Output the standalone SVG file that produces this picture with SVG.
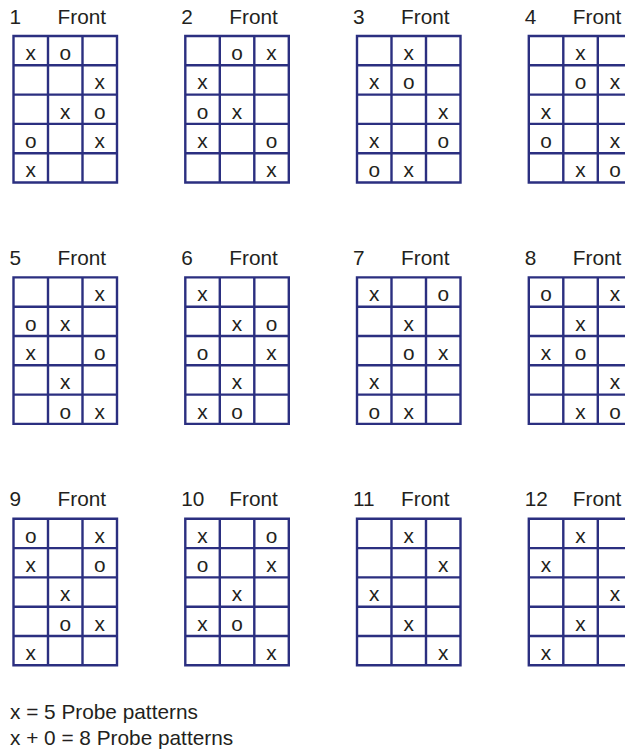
<svg xmlns="http://www.w3.org/2000/svg" xmlns:xlink="http://www.w3.org/1999/xlink" width="625" height="754" viewBox="0 0 625 754">
<style>
.g{fill:none;stroke:#2b2f80;stroke-width:2.4}
text{font-family:"Liberation Sans",Arial,sans-serif;font-size:20.8px;fill:#231f20}
.c{text-anchor:middle}
</style>
<defs>
<path id="frame" class="g" d="M0,0H103.5V146.5H0Z M34.5,0V146.5 M69,0V146.5 M0,29.3H103.5 M0,58.6H103.5 M0,87.9H103.5 M0,117.2H103.5"/>
</defs>
<rect width="625" height="754" fill="#fff"/>
<g id="grid1" transform="translate(13.5,36)"><use xlink:href="#frame"/><text x="-4" y="-12.5">1</text><text x="44" y="-12.5">Front</text>
<text class="c" x="17.25" y="24">x</text><text class="c" x="51.75" y="24">o</text>
<text class="c" x="86.25" y="53.3">x</text>
<text class="c" x="51.75" y="82.6">x</text><text class="c" x="86.25" y="82.6">o</text>
<text class="c" x="17.25" y="111.9">o</text><text class="c" x="86.25" y="111.9">x</text>
<text class="c" x="17.25" y="141.2">x</text></g>
<g id="grid2" transform="translate(185.3,36)"><use xlink:href="#frame"/><text x="-4" y="-12.5">2</text><text x="44" y="-12.5">Front</text>
<text class="c" x="51.75" y="24">o</text><text class="c" x="86.25" y="24">x</text>
<text class="c" x="17.25" y="53.3">x</text>
<text class="c" x="17.25" y="82.6">o</text><text class="c" x="51.75" y="82.6">x</text>
<text class="c" x="17.25" y="111.9">x</text><text class="c" x="86.25" y="111.9">o</text>
<text class="c" x="86.25" y="141.2">x</text></g>
<g id="grid3" transform="translate(357,36)"><use xlink:href="#frame"/><text x="-4" y="-12.5">3</text><text x="44" y="-12.5">Front</text>
<text class="c" x="51.75" y="24">x</text>
<text class="c" x="17.25" y="53.3">x</text><text class="c" x="51.75" y="53.3">o</text>
<text class="c" x="86.25" y="82.6">x</text>
<text class="c" x="17.25" y="111.9">x</text><text class="c" x="86.25" y="111.9">o</text>
<text class="c" x="17.25" y="141.2">o</text><text class="c" x="51.75" y="141.2">x</text></g>
<g id="grid4" transform="translate(528.8,36)"><use xlink:href="#frame"/><text x="-4" y="-12.5">4</text><text x="44" y="-12.5">Front</text>
<text class="c" x="51.75" y="24">x</text>
<text class="c" x="51.75" y="53.3">o</text><text class="c" x="86.25" y="53.3">x</text>
<text class="c" x="17.25" y="82.6">x</text>
<text class="c" x="17.25" y="111.9">o</text><text class="c" x="86.25" y="111.9">x</text>
<text class="c" x="51.75" y="141.2">x</text><text class="c" x="86.25" y="141.2">o</text></g>
<g id="grid5" transform="translate(13.5,277.4)"><use xlink:href="#frame"/><text x="-4" y="-12.5">5</text><text x="44" y="-12.5">Front</text>
<text class="c" x="86.25" y="24">x</text>
<text class="c" x="17.25" y="53.3">o</text><text class="c" x="51.75" y="53.3">x</text>
<text class="c" x="17.25" y="82.6">x</text><text class="c" x="86.25" y="82.6">o</text>
<text class="c" x="51.75" y="111.9">x</text>
<text class="c" x="51.75" y="141.2">o</text><text class="c" x="86.25" y="141.2">x</text></g>
<g id="grid6" transform="translate(185.3,277.4)"><use xlink:href="#frame"/><text x="-4" y="-12.5">6</text><text x="44" y="-12.5">Front</text>
<text class="c" x="17.25" y="24">x</text>
<text class="c" x="51.75" y="53.3">x</text><text class="c" x="86.25" y="53.3">o</text>
<text class="c" x="17.25" y="82.6">o</text><text class="c" x="86.25" y="82.6">x</text>
<text class="c" x="51.75" y="111.9">x</text>
<text class="c" x="17.25" y="141.2">x</text><text class="c" x="51.75" y="141.2">o</text></g>
<g id="grid7" transform="translate(357,277.4)"><use xlink:href="#frame"/><text x="-4" y="-12.5">7</text><text x="44" y="-12.5">Front</text>
<text class="c" x="17.25" y="24">x</text><text class="c" x="86.25" y="24">o</text>
<text class="c" x="51.75" y="53.3">x</text>
<text class="c" x="51.75" y="82.6">o</text><text class="c" x="86.25" y="82.6">x</text>
<text class="c" x="17.25" y="111.9">x</text>
<text class="c" x="17.25" y="141.2">o</text><text class="c" x="51.75" y="141.2">x</text></g>
<g id="grid8" transform="translate(528.8,277.4)"><use xlink:href="#frame"/><text x="-4" y="-12.5">8</text><text x="44" y="-12.5">Front</text>
<text class="c" x="17.25" y="24">o</text><text class="c" x="86.25" y="24">x</text>
<text class="c" x="51.75" y="53.3">x</text>
<text class="c" x="17.25" y="82.6">x</text><text class="c" x="51.75" y="82.6">o</text>
<text class="c" x="86.25" y="111.9">x</text>
<text class="c" x="51.75" y="141.2">x</text><text class="c" x="86.25" y="141.2">o</text></g>
<g id="grid9" transform="translate(13.5,518.8)"><use xlink:href="#frame"/><text x="-4" y="-12.5">9</text><text x="44" y="-12.5">Front</text>
<text class="c" x="17.25" y="24">o</text><text class="c" x="86.25" y="24">x</text>
<text class="c" x="17.25" y="53.3">x</text><text class="c" x="86.25" y="53.3">o</text>
<text class="c" x="51.75" y="82.6">x</text>
<text class="c" x="51.75" y="111.9">o</text><text class="c" x="86.25" y="111.9">x</text>
<text class="c" x="17.25" y="141.2">x</text></g>
<g id="grid10" transform="translate(185.3,518.8)"><use xlink:href="#frame"/><text x="-4" y="-12.5">10</text><text x="44" y="-12.5">Front</text>
<text class="c" x="17.25" y="24">x</text><text class="c" x="86.25" y="24">o</text>
<text class="c" x="17.25" y="53.3">o</text><text class="c" x="86.25" y="53.3">x</text>
<text class="c" x="51.75" y="82.6">x</text>
<text class="c" x="17.25" y="111.9">x</text><text class="c" x="51.75" y="111.9">o</text>
<text class="c" x="86.25" y="141.2">x</text></g>
<g id="grid11" transform="translate(357,518.8)"><use xlink:href="#frame"/><text x="-4" y="-12.5">11</text><text x="44" y="-12.5">Front</text>
<text class="c" x="51.75" y="24">x</text>
<text class="c" x="86.25" y="53.3">x</text>
<text class="c" x="17.25" y="82.6">x</text>
<text class="c" x="51.75" y="111.9">x</text>
<text class="c" x="86.25" y="141.2">x</text></g>
<g id="grid12" transform="translate(528.8,518.8)"><use xlink:href="#frame"/><text x="-4" y="-12.5">12</text><text x="44" y="-12.5">Front</text>
<text class="c" x="51.75" y="24">x</text>
<text class="c" x="17.25" y="53.3">x</text>
<text class="c" x="86.25" y="82.6">x</text>
<text class="c" x="51.75" y="111.9">x</text>
<text class="c" x="17.25" y="141.2">x</text></g>
<g id="connectors"/>
<g id="legend"><text x="10" y="719">x = 5 Probe patterns</text><text x="10" y="745">x + 0 = 8 Probe patterns</text></g>
</svg>
